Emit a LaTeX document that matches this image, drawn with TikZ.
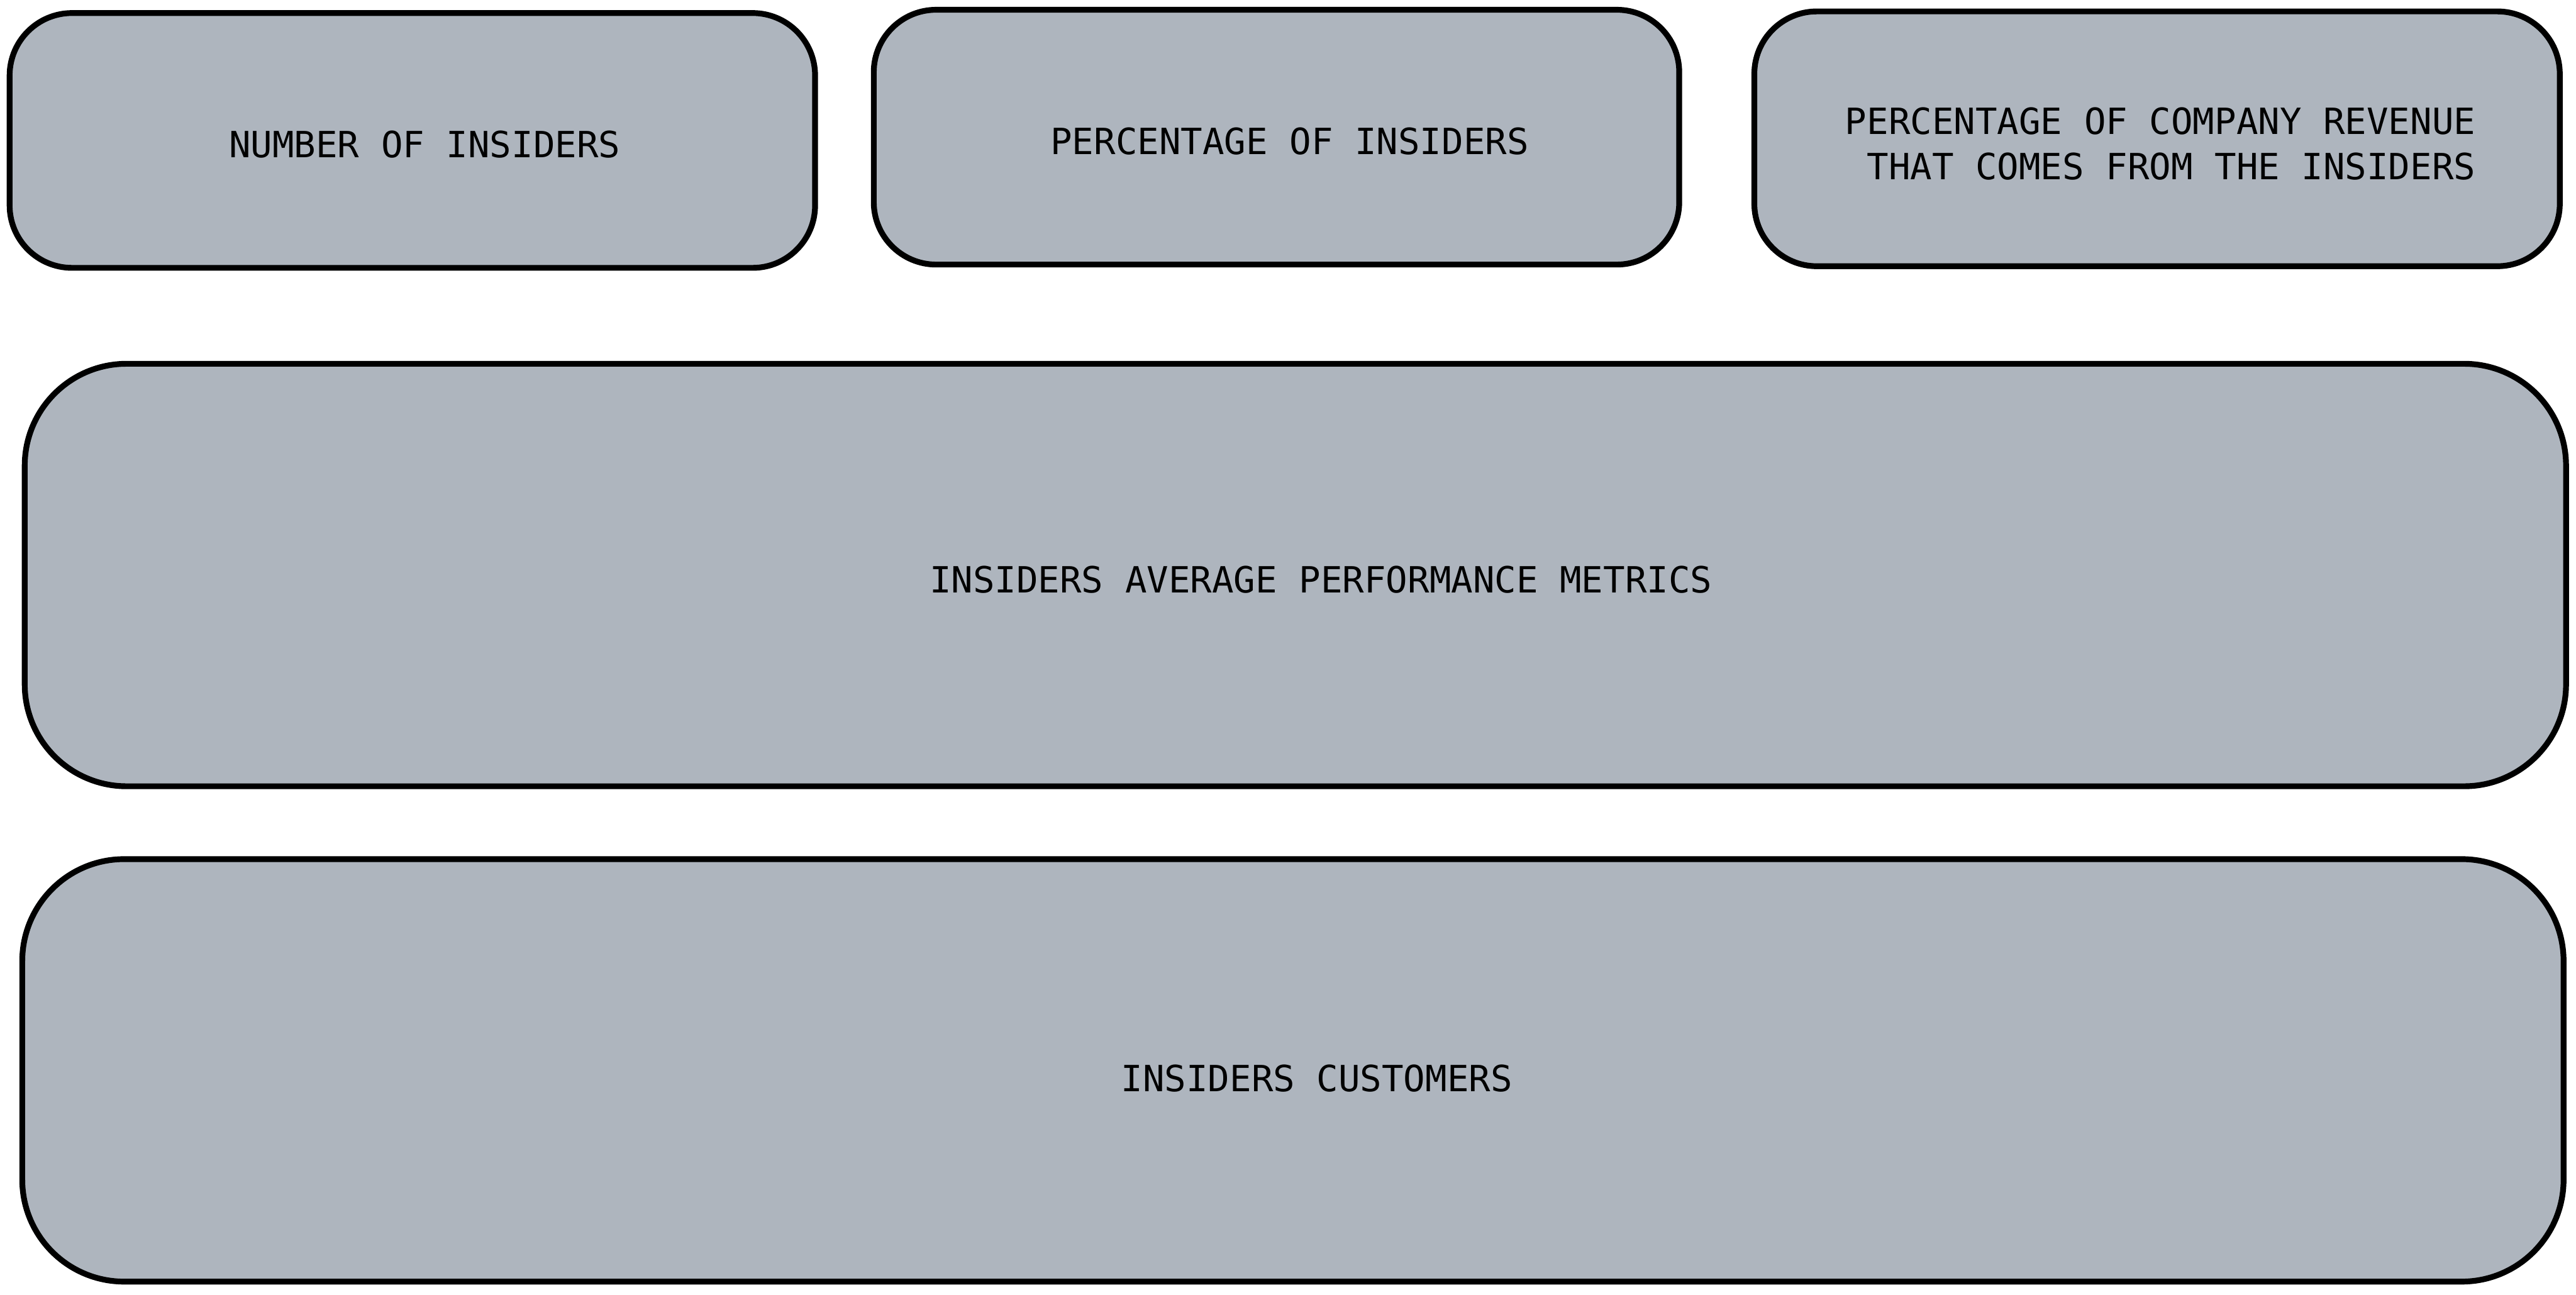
\documentclass[tikz,border=0pt]{standalone}
\usepackage{fontspec}
\setmonofont{DejaVu Sans Mono}
\definecolor{cardgray}{RGB}{174,181,190}

\tikzset{
  card/.style={draw, fill=cardgray, line width=1pt, rounded corners=0.38cm,
    inner sep=0pt, outer sep=0pt},
  smallcard/.style={card, minimum width=4.9cm, minimum height=1.55cm},
  widecard/.style={card, rounded corners=0.62cm, minimum width=15.46cm, minimum height=2.57cm},
  cardtext/.style={inner sep=0pt, align=right,
    font=\ttfamily\fontsize{6.25}{7.9}\selectfont}
}

\begin{document}
\begin{tikzpicture}[x=0.01cm, y=0.01cm]
    \useasboundingbox (0,0) rectangle (1568,788);

    \node[smallcard] (count) at (251,702.5) {};
    \node[smallcard] (share) at (777,704.5) {};
    \node[smallcard] (revenue) at (1313,703.5) {};
    \node[widecard] (metrics) at (788.5,438) {};
    \node[widecard] (customers) at (787,136.5) {};

    \node[cardtext] (count-text) at (258.5,700) {NUMBER OF INSIDERS};
    \node[cardtext] (share-text) at (785,702) {PERCENTAGE OF INSIDERS};
    \node[cardtext] (revenue-text) at (1315,700.5)
      {PERCENTAGE OF COMPANY REVENUE\\THAT COMES FROM THE INSIDERS};
    \node[cardtext] (metrics-text) at (804,435) {INSIDERS AVERAGE PERFORMANCE METRICS};
    \node[cardtext] (customers-text) at (801.5,131.5) {INSIDERS CUSTOMERS};
  \end{tikzpicture}
\end{document}
